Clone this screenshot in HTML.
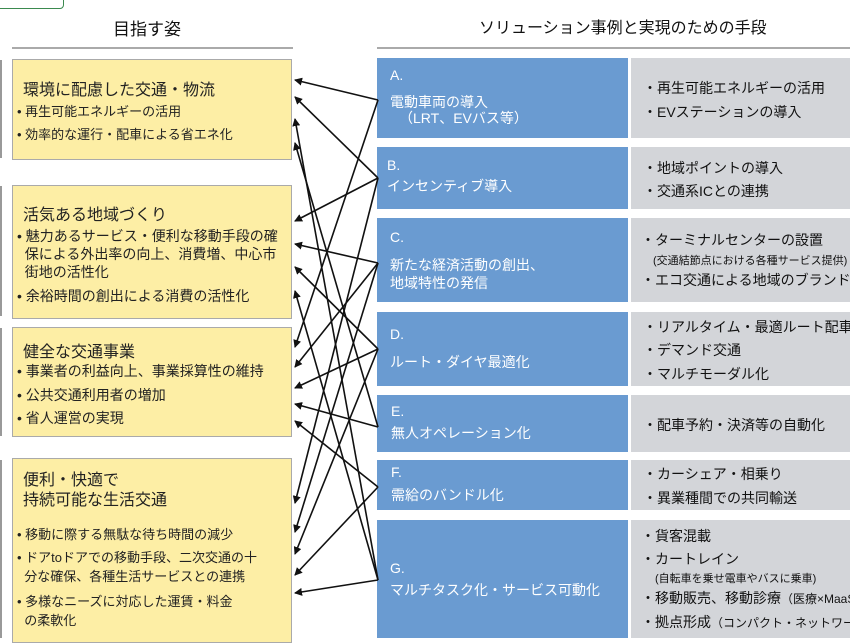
<!DOCTYPE html>
<html><head><meta charset="utf-8"><style>
body{margin:0;width:850px;height:638px;overflow:hidden;background:#fff;font-family:"Liberation Sans","Noto Sans CJK JP",sans-serif;position:relative;color:#222}
.a{position:absolute}
.y{position:absolute;left:12px;width:280px;background:#fdeea5;border:1.5px solid #aaa;box-sizing:border-box}
.t{position:absolute;font-size:16px;left:10px;white-space:nowrap}
.b{position:absolute;font-size:13px;left:4px;white-space:nowrap;line-height:19px}
.b2{font-size:14px}
.bl{position:absolute;left:377px;width:251px;background:#6a9bd1;color:#fff;font-size:14px}
.gr{position:absolute;left:631px;width:219px;background:#d3d5d9;font-size:14px;color:#111;white-space:nowrap;overflow:hidden}
.gr div,.bl div{position:absolute;white-space:nowrap}
</style></head><body>
<div class="a" style="left:-10px;top:-10px;width:72px;height:17px;border:1.5px solid #3b8a4f;border-radius:4px"></div>
<div class="a" style="left:0;top:60px;width:2px;height:98px;background:#999"></div>
<div class="a" style="left:0;top:186px;width:2px;height:130px;background:#999"></div>
<div class="a" style="left:0;top:328px;width:2px;height:108px;background:#999"></div>
<div class="a" style="left:0;top:460px;width:2px;height:178px;background:#999"></div>
<div class="a" style="left:113px;top:15px;font-size:17px;color:#111">目指す姿</div>
<div class="a" style="left:479px;top:14px;font-size:16px;color:#111">ソリューション事例と実現のための手段</div>
<div class="a" style="left:12px;top:47px;width:281px;height:2px;background:#aaa"></div>
<div class="a" style="left:377px;top:47px;width:473px;height:2px;background:#aaa"></div>

<div class="y" style="top:59px;height:101px">
<div class="t" style="top:16px">環境に配慮した交通・物流</div>
<div class="b" style="top:42px">• 再生可能エネルギーの活用</div>
<div class="b" style="top:65px">• 効率的な運行・配車による省エネ化</div></div>
<div class="y" style="top:185px;height:134px">
<div class="t" style="top:15px">活気ある地域づくり</div>
<div class="b b2" style="top:41px;line-height:18px">•&nbsp;魅力あるサービス・便利な移動手段の確<br>&nbsp;&nbsp;保による外出率の向上、消費増、中心市<br>&nbsp;&nbsp;街地の活性化</div>
<div class="b b2" style="top:101px">•&nbsp;余裕時間の創出による消費の活性化</div></div>
<div class="y" style="top:327px;height:110px">
<div class="t" style="top:10px">健全な交通事業</div>
<div class="b b2" style="top:34px">•&nbsp;事業者の利益向上、事業採算性の維持</div>
<div class="b b2" style="top:58px">•&nbsp;公共交通利用者の増加</div>
<div class="b b2" style="top:81px">•&nbsp;省人運営の実現</div></div>
<div class="y" style="top:458px;height:185px">
<div class="t" style="top:12px;line-height:20px">便利・快適で<br>持続可能な生活交通</div>
<div class="b" style="top:66px">• 移動に際する無駄な待ち時間の減少</div>
<div class="b" style="top:89px">• ドアtoドアでの移動手段、二次交通の十<br>&nbsp;&nbsp;分な確保、各種生活サービスとの連携</div>
<div class="b" style="top:133px">• 多様なニーズに対応した運賃・料金<br>&nbsp;&nbsp;の柔軟化</div></div>

<div class="bl" style="top:58px;height:80px"><div style="left:13px;top:9px">A.</div><div style="left:13px;top:34px">電動車両の導入</div><div style="left:22px;top:50px">（LRT、EVバス等）</div></div>
<div class="gr" style="top:58px;height:80px"><div style="left:12px;top:20px">・再生可能エネルギーの活用</div><div style="left:12px;top:44px">・EVステーションの導入</div></div>
<div class="bl" style="top:147px;height:62px"><div style="left:10px;top:10px">B.</div><div style="left:10px;top:29px">インセンティブ導入</div></div>
<div class="gr" style="top:147px;height:62px"><div style="left:12px;top:11px">・地域ポイントの導入</div><div style="left:12px;top:34px">・交通系ICとの連携</div></div>
<div class="bl" style="top:218px;height:84px"><div style="left:13px;top:11px">C.</div><div style="left:13px;top:38px;line-height:18px">新たな経済活動の創出、<br>地域特性の発信</div></div>
<div class="gr" style="top:218px;height:84px"><div style="left:10px;top:12px">・ターミナルセンターの設置</div><div style="left:22px;top:34px;font-size:11px">(交通結節点における各種サービス提供)</div><div style="left:10px;top:52px">・エコ交通による地域のブランド化</div></div>
<div class="bl" style="top:312px;height:74px"><div style="left:13px;top:14px">D.</div><div style="left:13px;top:40px">ルート・ダイヤ最適化</div></div>
<div class="gr" style="top:312px;height:74px"><div style="left:12px;top:5px">・リアルタイム・最適ルート配車</div><div style="left:12px;top:28px">・デマンド交通</div><div style="left:12px;top:52px">・マルチモーダル化</div></div>
<div class="bl" style="top:395px;height:57px"><div style="left:14px;top:8px">E.</div><div style="left:14px;top:28px">無人オペレーション化</div></div>
<div class="gr" style="top:395px;height:57px"><div style="left:12px;top:20px">・配車予約・決済等の自動化</div></div>
<div class="bl" style="top:460px;height:50px"><div style="left:14px;top:4px">F.</div><div style="left:14px;top:25px">需給のバンドル化</div></div>
<div class="gr" style="top:460px;height:50px"><div style="left:12px;top:4px">・カーシェア・相乗り</div><div style="left:12px;top:28px">・異業種間での共同輸送</div></div>
<div class="bl" style="top:520px;height:118px"><div style="left:13px;top:40px">G.</div><div style="left:13px;top:60px">マルチタスク化・サービス可動化</div></div>
<div class="gr" style="top:520px;height:118px"><div style="left:10px;top:6px">・貨客混載</div><div style="left:10px;top:29px">・カートレイン</div><div style="left:24px;top:50px;font-size:11px">(自転車を乗せ電車やバスに乗車)</div><div style="left:10px;top:68px">・移動販売、移動診療<span style="font-size:12px">（医療×MaaS）</span></div><div style="left:10px;top:92px">・拠点形成<span style="font-size:12px">（コンパクト・ネットワーク）</span></div></div>

<svg class="a" style="left:0;top:0" width="850" height="638">
<defs><marker id="m" markerWidth="8" markerHeight="8" refX="7" refY="4" orient="auto" markerUnits="userSpaceOnUse"><path d="M0,0L8,4L0,8z" fill="#111"/></marker></defs>
<g stroke="#111" stroke-width="1.6" marker-end="url(#m)">
<line x1="378" y1="100" x2="295" y2="80"/>
<line x1="378" y1="178" x2="295" y2="97"/>
<line x1="378" y1="580" x2="295" y2="119"/>
<line x1="378" y1="427" x2="295" y2="143"/>
<line x1="378" y1="178" x2="295" y2="221"/>
<line x1="378" y1="263" x2="295" y2="244"/>
<line x1="378" y1="349" x2="295" y2="267"/>
<line x1="378" y1="580" x2="295" y2="291"/>
<line x1="378" y1="100" x2="295" y2="347"/>
<line x1="378" y1="263" x2="295" y2="367"/>
<line x1="378" y1="349" x2="295" y2="388"/>
<line x1="378" y1="427" x2="295" y2="404"/>
<line x1="378" y1="487" x2="295" y2="421"/>
<line x1="378" y1="178" x2="295" y2="503"/>
<line x1="378" y1="263" x2="295" y2="532"/>
<line x1="378" y1="349" x2="295" y2="554"/>
<line x1="378" y1="487" x2="295" y2="575"/>
<line x1="378" y1="580" x2="295" y2="593"/>
</g></svg>
</body></html>
